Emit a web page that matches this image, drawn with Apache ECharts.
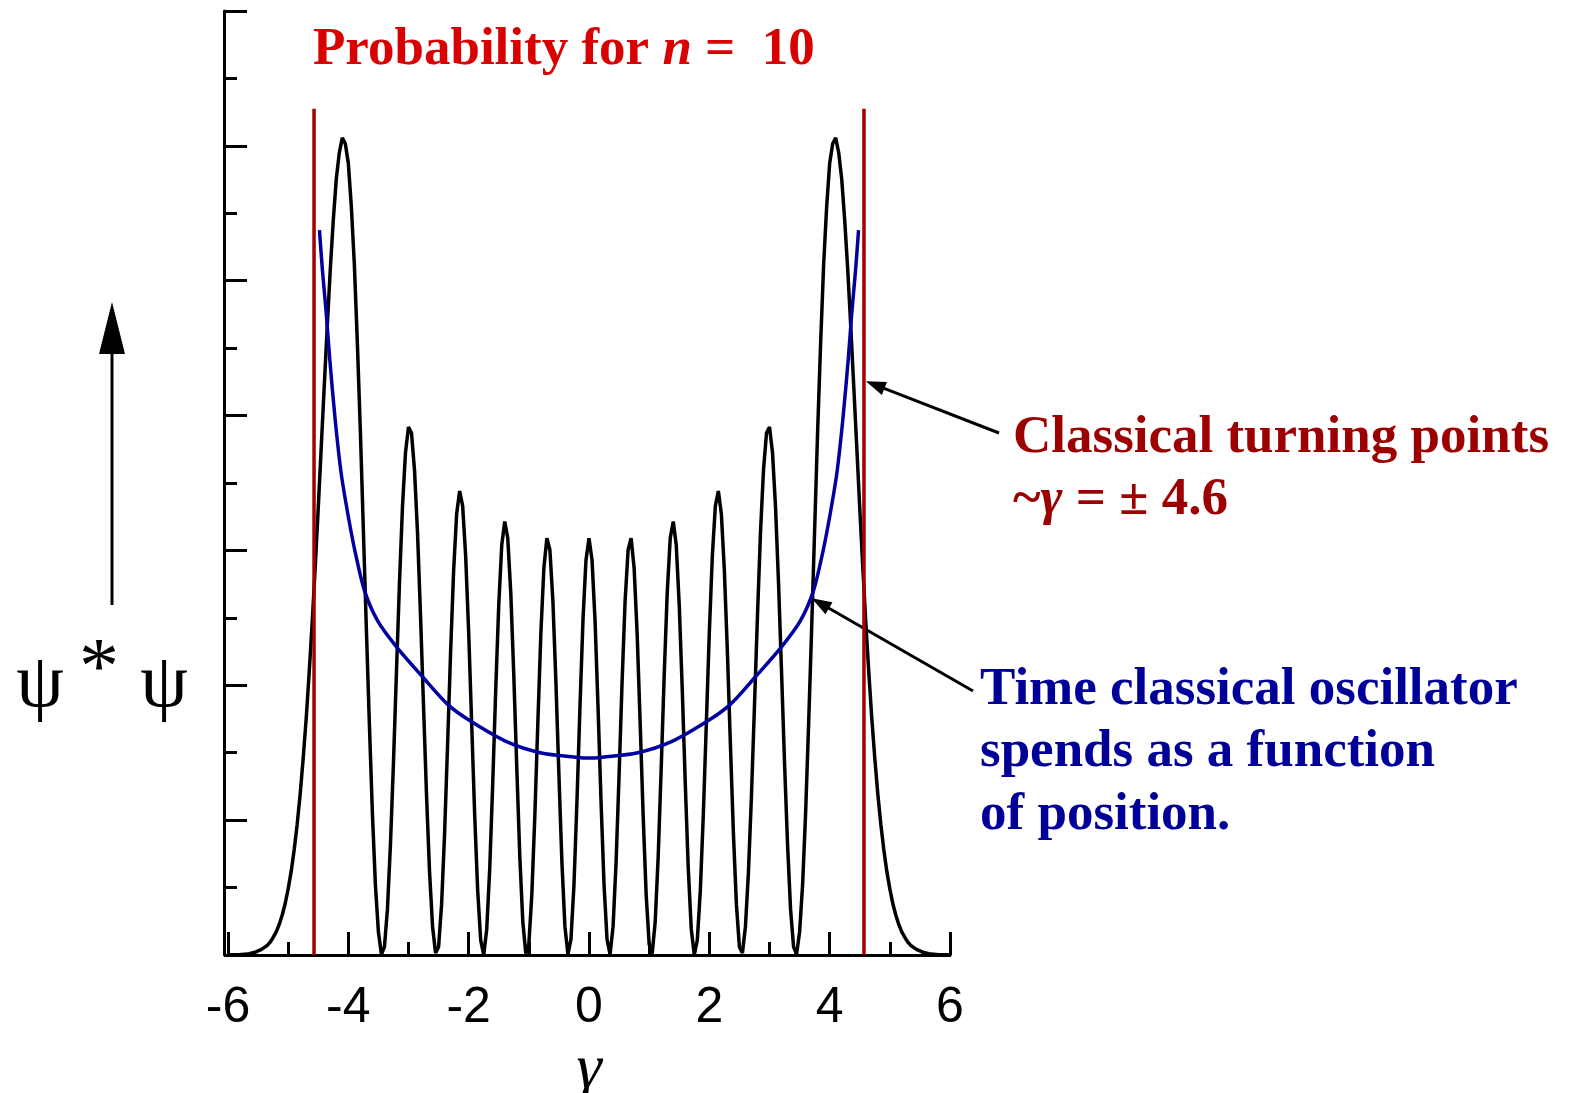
<!DOCTYPE html>
<html>
<head>
<meta charset="utf-8">
<title>Probability for n = 10</title>
<script src="https://cdn.jsdelivr.net/npm/echarts@6/dist/echarts.min.js"></script>
<style>
  html, body { margin: 0; padding: 0; background: #fff; }
  #chart { width: 1570px; height: 1093px; }
</style>
</head>
<body>
<div id="chart"></div>
<script>
// psi*psi for n = 10, every 0.05 in gamma, from -6 to 6
const gammaStart = -6;
const gammaStep = 0.05;
const density = [
  0.001, 0.002, 0.003, 0.005, 0.007, 0.01, 0.014, 0.02, 0.03, 0.04,
  0.06, 0.08, 0.11, 0.14, 0.19, 0.26, 0.34, 0.45, 0.59, 0.76,
  0.98, 1.24, 1.56, 1.94, 2.39, 2.92, 3.51, 4.20, 4.94, 5.76,
  6.63, 7.54, 8.44, 9.33, 10.17, 10.90, 11.51, 11.90, 12.12, 12.03,
  11.74, 11.10, 10.24, 9.08, 7.77, 6.30, 4.83, 3.42, 2.10, 1.04,
  0.34, 0.01, 0.12, 0.68, 1.64, 2.85, 4.20, 5.52, 6.65, 7.45,
  7.83, 7.74, 7.19, 6.26, 5.03, 3.69, 2.36, 1.23, 0.42, 0.03,
  0.12, 0.75, 1.81, 3.13, 4.50, 5.70, 6.54, 6.88, 6.66, 5.92,
  4.79, 3.43, 2.08, 0.95, 0.22, 0.00, 0.38, 1.28, 2.55, 3.94,
  5.19, 6.08, 6.43, 6.18, 5.37, 4.15, 2.77, 1.46, 0.49, 0.02,
  0.16, 0.90, 2.07, 3.45, 4.77, 5.74, 6.18, 6.01, 5.25, 4.05,
  2.67, 1.37, 0.42, 0.01, 0.23, 1.04, 2.28, 3.68, 4.97, 5.86,
  6.18,
  5.86, 4.97, 3.68, 2.28, 1.04, 0.23, 0.01, 0.42, 1.37, 2.67,
  4.05, 5.25, 6.01, 6.18, 5.74, 4.77, 3.45, 2.07, 0.90, 0.16,
  0.02, 0.49, 1.46, 2.77, 4.15, 5.37, 6.18, 6.43, 6.08, 5.19,
  3.94, 2.55, 1.28, 0.38, 0.00, 0.22, 0.95, 2.08, 3.43, 4.79,
  5.92, 6.66, 6.88, 6.54, 5.70, 4.50, 3.13, 1.81, 0.75, 0.12,
  0.03, 0.42, 1.23, 2.36, 3.69, 5.03, 6.26, 7.19, 7.74, 7.83,
  7.45, 6.65, 5.52, 4.20, 2.85, 1.64, 0.68, 0.12, 0.01, 0.34,
  1.04, 2.10, 3.42, 4.83, 6.30, 7.77, 9.08, 10.24, 11.10, 11.74,
  12.03, 12.12, 11.90, 11.51, 10.90, 10.17, 9.33, 8.44, 7.54, 6.63,
  5.76, 4.94, 4.20, 3.51, 2.92, 2.39, 1.94, 1.56, 1.24, 0.98,
  0.76, 0.59, 0.45, 0.34, 0.26, 0.19, 0.14, 0.11, 0.08, 0.06,
  0.04, 0.03, 0.02, 0.014, 0.01, 0.007, 0.005, 0.003, 0.002, 0.001
];

// time the classical oscillator spends at each position
const classicalGamma = [
  -4.48, -4.43, -4.37, -4.31, -4.22, -4.12, -4.00, -3.88, -3.73, -3.51, -3.20,
  -2.77, -2.34, -1.97, -1.36, -0.81, -0.19, 0, 0.19, 0.81, 1.36, 1.97, 2.34,
  2.77, 3.20, 3.51, 3.73, 3.88, 4.00, 4.12, 4.22, 4.31, 4.37, 4.43, 4.48
];
const classicalDensity = [
  10.75, 10.15, 9.55, 8.85, 7.95, 7.15, 6.50, 5.95, 5.40, 4.95, 4.57,
  4.13, 3.71, 3.47, 3.16, 3.00, 2.93, 2.92, 2.93, 3.00, 3.16, 3.47, 3.71,
  4.13, 4.57, 4.95, 5.40, 5.95, 6.50, 7.15, 7.95, 8.85, 9.55, 10.15, 10.75
];

// classical turning points and the height of their marker lines
const turningPoints = [-4.57, 4.57];
const turningLineTop = 12.55;

// where the two annotation arrows point, in data units
const turningArrowTip = [4.6, 8.51];
const classicalArrowTip = [3.7, 5.29];

const chart = echarts.init(document.getElementById("chart"));

const quantumData = density.map((v, i) => [gammaStart + i * gammaStep, v]);
const classicalData = classicalGamma.map((g, i) => [g, classicalDensity[i]]);

const tickStyle = { color: "#000", width: 3 };
const serif = '"Liberation Serif", "Times New Roman", serif';

const option = {
  animation: false,
  backgroundColor: "#fff",
  grid: {
    left: 228,
    right: 620,
    top: 11,
    bottom: 138,
    containLabel: false,
    outerBoundsMode: "none",
  },
  xAxis: {
    type: "value",
    min: -6,
    max: 6,
    interval: 2,
    name: "γ",
    nameLocation: "middle",
    nameGap: 74,
    nameTextStyle: {
      fontFamily: serif,
      fontStyle: "italic",
      fontSize: 64,
      color: "#000",
    },
    axisLine: { show: true, onZero: false, lineStyle: tickStyle },
    axisTick: { show: true, inside: true, length: 23, lineStyle: tickStyle },
    minorTick: { show: true, splitNumber: 2, length: 13, lineStyle: tickStyle },
    splitLine: { show: false },
    axisLabel: {
      margin: 28,
      fontFamily: '"Liberation Sans", Arial, sans-serif',
      fontSize: 50,
      color: "#000",
    },
  },
  yAxis: {
    type: "value",
    min: 0,
    max: 14,
    interval: 2,
    offset: 4,
    axisLine: { show: true, onZero: false, lineStyle: tickStyle },
    axisTick: { show: true, inside: true, length: 23, lineStyle: tickStyle },
    minorTick: { show: true, splitNumber: 2, length: 13, lineStyle: tickStyle },
    splitLine: { show: false },
    axisLabel: { show: false },
  },
  series: [
    {
      type: "line",
      data: quantumData,
      showSymbol: false,
      lineStyle: { color: "#000", width: 3.5 },
      z: 2,
    },
    {
      type: "line",
      data: classicalData,
      showSymbol: false,
      smooth: 0.3,
      lineStyle: { color: "#0000a0", width: 3.5 },
      z: 3,
    },
    ...turningPoints.map((g) => ({
      type: "line",
      data: [
        [g, 0],
        [g, turningLineTop],
      ],
      showSymbol: false,
      lineStyle: { color: "#a30000", width: 3.5 },
      z: 4,
    })),
  ],
};

chart.setOption(option);

function arrow(from, to, headLen, headHalf, width) {
  const dx = to[0] - from[0];
  const dy = to[1] - from[1];
  const len = Math.hypot(dx, dy);
  const ux = dx / len;
  const uy = dy / len;
  const bx = to[0] - ux * headLen;
  const by = to[1] - uy * headLen;
  return [
    {
      type: "line",
      shape: { x1: from[0], y1: from[1], x2: bx + ux, y2: by + uy },
      style: { stroke: "#000", lineWidth: width },
    },
    {
      type: "polygon",
      shape: {
        points: [
          to,
          [bx - uy * headHalf, by + ux * headHalf],
          [bx + uy * headHalf, by - ux * headHalf],
        ],
      },
      style: { fill: "#000" },
    },
  ];
}

function label(x, y, text, size, color, extra) {
  return {
    type: "text",
    x: x,
    y: y,
    style: Object.assign(
      {
        text: text,
        fontFamily: serif,
        fontWeight: "bold",
        fontSize: size,
        fill: color,
        align: "left",
        verticalAlign: "middle",
      },
      extra || {}
    ),
  };
}

const tip1 = chart.convertToPixel({ gridIndex: 0 }, turningArrowTip);
const tip2 = chart.convertToPixel({ gridIndex: 0 }, classicalArrowTip);

const darkRed = "#9c0000";
const blue = "#000099";

chart.setOption({
  graphic: [
    {
      type: "text",
      x: 313,
      y: 50,
      style: {
        text: "{a|Probability for }{b|n}{a| =  10}",
        align: "left",
        verticalAlign: "middle",
        rich: {
          a: { fontFamily: serif, fontWeight: "bold", fontSize: 53, fill: "#d80000" },
          b: { fontFamily: serif, fontWeight: "bold", fontStyle: "italic", fontSize: 53, fill: "#d80000" },
        },
      },
    },
    label(1013, 438, "Classical turning points", 53, darkRed),
    {
      type: "text",
      x: 1013,
      y: 500,
      style: {
        text: "{a|~}{b|γ}{a| = ± 4.6}",
        align: "left",
        verticalAlign: "middle",
        rich: {
          a: { fontFamily: serif, fontWeight: "bold", fontSize: 53, fill: darkRed },
          b: { fontFamily: serif, fontWeight: "bold", fontStyle: "italic", fontSize: 53, fill: darkRed },
        },
      },
    },
    label(980, 690, "Time classical oscillator", 53, blue),
    label(980, 752, "spends as a function", 53, blue),
    label(980, 815, "of position.", 53, blue),
    label(40, 686, "ψ", 76, "#000", { fontWeight: "normal", align: "center" }),
    label(99, 672, "*", 80, "#000", { fontWeight: "normal", align: "center" }),
    label(164, 686, "ψ", 76, "#000", { fontWeight: "normal", align: "center" }),
    ...arrow([112, 605], [112, 302], 52, 13, 3),
    ...arrow([999, 433], tip1, 20, 7, 3),
    ...arrow([973, 691], tip2, 20, 7, 3),
  ],
});
</script>
</body>
</html>
